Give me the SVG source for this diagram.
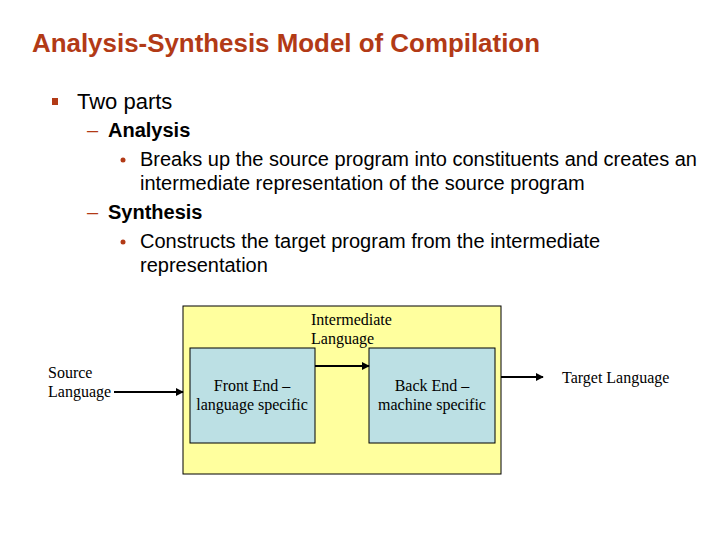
<svg xmlns="http://www.w3.org/2000/svg" width="720" height="540" viewBox="0 0 720 540">
<defs>
<style>
.title{font-family:"Liberation Sans",Arial,sans-serif;font-weight:bold;font-size:26px;fill:#B23A16}
.t1{font-family:"Liberation Sans",Arial,sans-serif;font-size:22px;fill:#000}
.t2{font-family:"Liberation Sans",Arial,sans-serif;font-size:20px;font-weight:bold;fill:#000}
.t3{font-family:"Liberation Sans",Arial,sans-serif;font-size:20px;fill:#000}
.dash{font-family:"Liberation Sans",Arial,sans-serif;font-size:20px;fill:#B23A16}
.acc{fill:#B23A16}
.srf{font-family:"Liberation Serif","Times New Roman",serif;font-size:16px;fill:#000}
.box{fill:#BCE0E4;stroke:#000;stroke-width:1}
.conn{stroke:#000;stroke-width:2;fill:none;marker-end:url(#ah)}
</style>
<marker id="ah" viewBox="0 0 10 10" refX="9" refY="5" markerWidth="4" markerHeight="4" orient="auto" markerUnits="strokeWidth">
<path d="M0,0 L10,5 L0,10 z" fill="#000"/>
</marker>
</defs>
<rect width="720" height="540" fill="#fff"/>
<text class="title" x="32" y="52" textLength="508" lengthAdjust="spacingAndGlyphs">Analysis-Synthesis Model of Compilation</text>
<rect class="acc" x="52" y="98" width="6" height="7"/>
<text class="t1" x="77" y="109">Two parts</text>
<text class="dash" x="87" y="137">–</text>
<text class="t2" x="108" y="137">Analysis</text>
<circle class="acc" cx="123" cy="160" r="2.5"/>
<text class="t3" x="140" y="166">Breaks up the source program into constituents and creates an</text>
<text class="t3" x="140" y="190">intermediate representation of the source program</text>
<text class="dash" x="87" y="219">–</text>
<text class="t2" x="108" y="219">Synthesis</text>
<circle class="acc" cx="123" cy="242" r="2.5"/>
<text class="t3" x="140" y="248">Constructs the target program from the intermediate</text>
<text class="t3" x="140" y="272">representation</text>
<g id="container">
<rect x="183" y="306" width="318" height="168" fill="#FFFF9E" stroke="#000" stroke-width="1"/>
<text class="srf" x="311" y="325">Intermediate</text>
<text class="srf" x="311" y="344">Language</text>
</g>
<g id="front-end">
<rect class="box" x="190" y="348" width="125" height="95"/>
<text class="srf" x="252" y="391" text-anchor="middle">Front End –</text>
<text class="srf" x="252" y="410" text-anchor="middle">language specific</text>
</g>
<g id="back-end">
<rect class="box" x="369" y="348" width="126" height="95"/>
<text class="srf" x="432" y="391" text-anchor="middle">Back End –</text>
<text class="srf" x="432" y="410" text-anchor="middle">machine specific</text>
</g>
<g id="source">
<text class="srf" x="48" y="378">Source</text>
<text class="srf" x="48" y="397">Language</text>
</g>
<g id="target">
<text class="srf" x="562" y="383">Target Language</text>
</g>
<g id="connectors">
<line class="conn" x1="114" y1="392" x2="183" y2="392"/>
<line class="conn" x1="315" y1="366" x2="369" y2="366"/>
<line class="conn" x1="501" y1="377" x2="543" y2="377"/>
</g>
</svg>
